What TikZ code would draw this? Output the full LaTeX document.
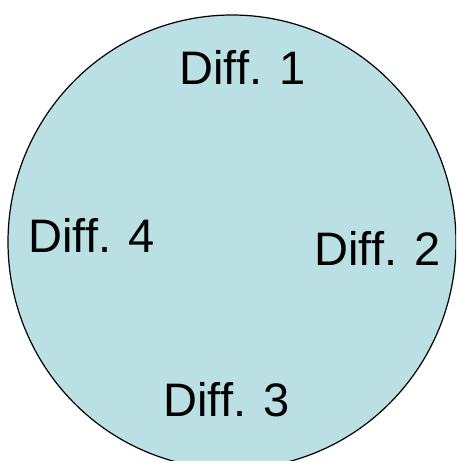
\documentclass[tikz,border=0pt]{standalone}
\usepackage{fontspec}
\setmainfont{Liberation Sans}
\definecolor{cellfill}{HTML}{BBE0E3}
\begin{document}
\begin{tikzpicture}[x=1pt,y=-1pt,
  lbl/.style={anchor=base west,inner sep=0pt,font=\fontsize{47}{52}\selectfont}]
\useasboundingbox (0,0) rectangle (456,461);
\clip (0,0) rectangle (456,461);
\draw[fill=cellfill,line width=1.2pt] (232,242) ellipse [x radius=224, y radius=227];
\node[lbl] (d1) at (179.4,84.3) {Diff. 1};
\node[lbl] (d2) at (314.4,265.7) {Diff. 2};
\node[lbl] (d3) at (163.4,416.7) {Diff. 3};
\node[lbl] (d4) at (28.4,252.3) {Diff. 4};
\end{tikzpicture}
\end{document}
